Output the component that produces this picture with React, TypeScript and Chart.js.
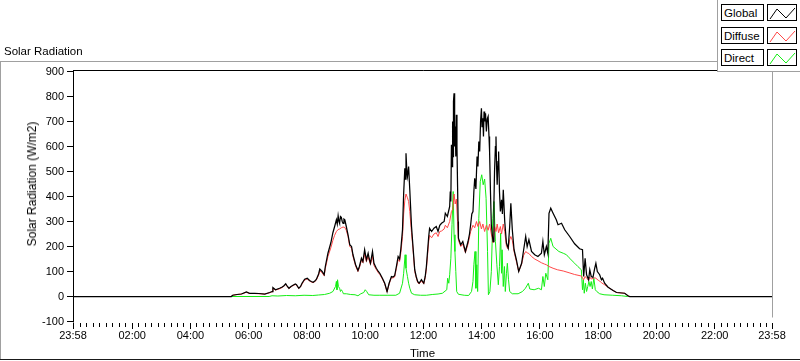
import React, { useEffect, useRef } from 'react';
import { Chart, registerables } from 'chart.js';

Chart.register(...registerables);

const FONT = '"Liberation Sans", Arial, sans-serif';

const seriesNames = ['Global', 'Diffuse', 'Direct'];
const seriesColors = ['#000000', '#ff4848', '#14ee14'];
const seriesWidths = [1.25, 1, 1];

const xMin = -2 / 60;
const xMax = 24 - 2 / 60;
const xTickHours = [xMin, 2, 4, 6, 8, 10, 12, 14, 16, 18, 20, 22, xMax];
const xTickLabels = ['23:58', '02:00', '04:00', '06:00', '08:00', '10:00', '12:00', '14:00', '16:00', '18:00', '20:00', '22:00', '23:58'];
const yMin = -100;
const yMax = 900;
const yStep = 100;

// [hour of day, W/m2]
const globalData: [number, number][] = [
  [xMin, 0], [5.40, 0], [5.45, 5], [5.60, 8], [5.75, 10], [5.92, 18], [6.03, 13], [6.20, 13], [6.35, 12], [6.55, 10],
  [6.72, 16], [6.80, 20], [6.83, 36], [6.92, 27], [7.06, 33], [7.15, 38], [7.21, 43], [7.27, 51], [7.33, 40], [7.38, 33],
  [7.45, 40], [7.52, 45], [7.60, 50], [7.64, 47], [7.72, 33], [7.78, 40], [7.83, 53], [7.92, 69], [8.01, 73], [8.09, 64],
  [8.15, 60], [8.21, 57], [8.27, 62], [8.32, 68], [8.40, 90], [8.44, 110], [8.52, 100], [8.59, 87], [8.63, 120], [8.72, 173],
  [8.82, 215], [8.89, 255], [8.95, 280], [9.01, 307], [9.04, 290], [9.07, 323], [9.10, 300], [9.12, 293], [9.15, 320], [9.18, 317],
  [9.21, 300], [9.24, 293], [9.27, 310], [9.30, 307], [9.35, 280], [9.41, 247], [9.47, 207], [9.53, 200], [9.58, 167], [9.67, 127],
  [9.75, 104], [9.80, 120], [9.87, 153], [9.92, 140], [9.98, 187], [10.04, 147], [10.10, 173], [10.14, 150], [10.18, 133], [10.25, 180],
  [10.30, 133], [10.38, 113], [10.45, 100], [10.50, 93], [10.59, 73], [10.67, 53], [10.75, 20], [10.82, 53], [10.90, 80], [10.95, 78],
  [11.01, 83], [11.07, 120], [11.13, 160], [11.18, 150], [11.22, 187], [11.28, 267], [11.32, 413], [11.36, 513], [11.38, 470], [11.40, 573],
  [11.43, 500], [11.45, 480], [11.49, 520], [11.53, 427], [11.59, 280], [11.64, 200], [11.70, 107], [11.75, 80], [11.80, 60], [11.85, 53],
  [11.93, 67], [12.01, 53], [12.06, 80], [12.10, 120], [12.14, 180], [12.18, 240], [12.21, 273], [12.28, 260], [12.36, 273], [12.44, 280],
  [12.50, 260], [12.56, 285], [12.62, 293], [12.71, 300], [12.75, 333], [12.82, 320], [12.87, 345], [12.90, 360], [12.92, 420], [12.94, 380],
  [12.96, 607], [12.98, 520], [13.00, 700], [13.02, 560], [13.03, 780], [13.05, 813], [13.07, 600], [13.09, 680], [13.11, 560], [13.13, 727],
  [13.15, 600], [13.17, 447], [13.19, 300], [13.20, 233], [13.28, 207], [13.35, 220], [13.44, 180], [13.53, 220], [13.58, 250], [13.62, 287],
  [13.66, 330], [13.70, 340], [13.73, 420], [13.76, 473], [13.80, 430], [13.84, 560], [13.87, 520], [13.90, 620], [13.93, 580], [13.96, 700],
  [13.99, 753], [14.01, 680], [14.04, 713], [14.06, 640], [14.08, 740], [14.10, 700], [14.13, 733], [14.16, 660], [14.19, 710], [14.22, 720],
  [14.25, 640], [14.27, 580], [14.30, 420], [14.33, 287], [14.36, 250], [14.39, 220], [14.42, 380], [14.44, 500], [14.47, 600], [14.49, 640],
  [14.51, 520], [14.53, 447], [14.56, 540], [14.58, 580], [14.61, 420], [14.64, 340], [14.68, 387], [14.71, 330], [14.74, 427], [14.79, 300],
  [14.85, 213], [14.91, 193], [14.96, 280], [15.00, 373], [15.05, 267], [15.11, 187], [15.19, 147], [15.27, 100], [15.37, 133], [15.44, 187],
  [15.51, 240], [15.56, 200], [15.62, 227], [15.71, 180], [15.82, 167], [15.93, 160], [16.05, 173], [16.10, 220], [16.15, 167], [16.22, 200],
  [16.27, 173], [16.31, 333], [16.37, 353], [16.45, 333], [16.56, 307], [16.62, 287], [16.74, 293], [16.85, 267], [17.02, 240], [17.19, 211],
  [17.36, 191], [17.46, 187], [17.50, 80], [17.55, 153], [17.60, 87], [17.67, 67], [17.71, 107], [17.76, 80], [17.82, 77], [17.88, 113],
  [17.92, 133], [17.97, 100], [18.05, 87], [18.11, 67], [18.15, 73], [18.22, 53], [18.34, 37], [18.51, 24], [18.63, 16], [18.91, 13],
  [19.02, 3], [19.08, 0], [xMax, 0],
];

const diffuseData: [number, number][] = [
  [xMin, 0], [5.40, 0], [5.45, 5], [5.60, 8], [5.75, 10], [5.92, 17], [6.03, 12], [6.20, 12], [6.35, 11], [6.55, 10],
  [6.72, 15], [6.80, 19], [6.83, 33], [6.92, 26], [7.06, 31], [7.15, 36], [7.21, 41], [7.27, 48], [7.33, 39], [7.38, 32],
  [7.45, 38], [7.52, 44], [7.60, 48], [7.64, 45], [7.72, 32], [7.78, 39], [7.83, 50], [7.92, 66], [8.01, 70], [8.09, 62],
  [8.15, 58], [8.21, 55], [8.27, 60], [8.32, 65], [8.40, 86], [8.44, 103], [8.52, 95], [8.59, 83], [8.63, 112], [8.72, 160],
  [8.82, 195], [8.89, 225], [8.95, 245], [9.01, 260], [9.07, 268], [9.12, 270], [9.18, 275], [9.24, 278], [9.30, 276], [9.35, 265],
  [9.41, 240], [9.47, 200], [9.53, 193], [9.58, 160], [9.67, 122], [9.75, 100], [9.80, 115], [9.87, 145], [9.92, 135], [9.98, 170],
  [10.04, 140], [10.10, 160], [10.14, 143], [10.18, 128], [10.25, 160], [10.30, 125], [10.38, 108], [10.45, 95], [10.50, 88], [10.59, 70],
  [10.67, 50], [10.75, 18], [10.82, 50], [10.90, 76], [10.95, 74], [11.01, 78], [11.07, 112], [11.13, 148], [11.18, 140], [11.22, 172],
  [11.28, 240], [11.32, 330], [11.36, 385], [11.40, 410], [11.45, 395], [11.49, 380], [11.53, 340], [11.59, 255], [11.64, 190], [11.70, 100],
  [11.75, 76], [11.80, 56], [11.85, 50], [11.93, 62], [12.01, 50], [12.06, 75], [12.10, 110], [12.14, 165], [12.18, 220], [12.21, 245],
  [12.28, 235], [12.36, 250], [12.44, 255], [12.50, 240], [12.56, 260], [12.62, 262], [12.71, 270], [12.75, 285], [12.82, 275], [12.90, 300],
  [12.96, 340], [13.01, 350], [13.05, 410], [13.09, 370], [13.13, 390], [13.17, 300], [13.20, 225], [13.28, 200], [13.35, 210], [13.44, 175],
  [13.53, 210], [13.62, 260], [13.70, 285], [13.76, 275], [13.82, 300], [13.87, 280], [13.93, 300], [13.99, 270], [14.04, 290], [14.10, 260],
  [14.16, 285], [14.22, 265], [14.27, 290], [14.33, 250], [14.39, 215], [14.44, 280], [14.49, 260], [14.53, 290], [14.58, 255], [14.64, 280],
  [14.68, 250], [14.74, 290], [14.79, 260], [14.85, 200], [14.91, 190], [14.96, 227], [15.00, 240], [15.05, 225], [15.11, 180], [15.19, 140],
  [15.27, 100], [15.37, 130], [15.44, 165], [15.51, 180], [15.56, 175], [15.62, 172], [15.71, 160], [15.82, 150], [15.93, 143], [16.05, 135],
  [16.15, 130], [16.22, 127], [16.31, 120], [16.45, 113], [16.60, 107], [16.80, 102], [17.00, 95], [17.19, 88], [17.42, 82], [17.50, 67],
  [17.55, 80], [17.60, 73], [17.67, 65], [17.71, 78], [17.76, 70], [17.82, 72], [17.88, 75], [17.92, 73], [18.00, 65], [18.05, 62],
  [18.11, 55], [18.22, 47], [18.34, 37], [18.51, 24], [18.63, 16], [18.91, 13], [19.02, 3], [19.08, 0], [xMax, 0],
];

const directData: [number, number][] = [
  [xMin, 0], [5.40, 0], [6.70, 0], [6.80, 3], [7.00, 2], [7.30, 4], [7.60, 3], [7.90, 5], [8.20, 4], [8.40, 6],
  [8.60, 8], [8.78, 13], [8.89, 20], [8.98, 40], [9.01, 60], [9.03, 27], [9.05, 67], [9.08, 40], [9.12, 33], [9.15, 20],
  [9.18, 27], [9.22, 20], [9.25, 11], [9.35, 11], [9.50, 8], [9.65, 7], [9.75, 3], [9.85, 11], [9.95, 16], [10.00, 27],
  [10.05, 20], [10.12, 7], [10.30, 5], [10.50, 5], [10.75, 5], [11.05, 5], [11.18, 13], [11.28, 53], [11.32, 93], [11.37, 167],
  [11.40, 113], [11.45, 80], [11.49, 53], [11.53, 33], [11.59, 13], [11.70, 7], [11.90, 5], [12.10, 5], [12.30, 8], [12.50, 10],
  [12.65, 13], [12.80, 27], [12.83, 73], [12.87, 53], [12.90, 87], [12.94, 153], [12.98, 287], [13.02, 420], [13.05, 247], [13.08, 180],
  [13.11, 100], [13.14, 20], [13.20, 9], [13.40, 5], [13.55, 4], [13.65, 20], [13.70, 60], [13.73, 127], [13.77, 180], [13.80, 33],
  [13.83, 127], [13.86, 20], [13.90, 313], [13.95, 460], [14.00, 487], [14.05, 447], [14.10, 470], [14.15, 393], [14.20, 180], [14.23, 7],
  [14.28, 20], [14.33, 100], [14.38, 313], [14.42, 380], [14.47, 220], [14.52, 127], [14.57, 47], [14.61, 120], [14.65, 253], [14.68, 93],
  [14.70, 187], [14.74, 40], [14.78, 120], [14.81, 20], [14.85, 93], [14.88, 133], [14.92, 67], [14.96, 20], [15.05, 11], [15.25, 11],
  [15.40, 20], [15.50, 33], [15.60, 53], [15.65, 30], [15.80, 27], [15.95, 33], [16.05, 27], [16.10, 80], [16.15, 40], [16.20, 93],
  [16.27, 67], [16.31, 213], [16.37, 233], [16.45, 200], [16.55, 190], [16.65, 180], [16.80, 173], [16.91, 167], [17.00, 155], [17.19, 133],
  [17.30, 120], [17.42, 107], [17.46, 27], [17.49, 67], [17.52, 13], [17.56, 53], [17.60, 20], [17.64, 40], [17.68, 60], [17.72, 40],
  [17.76, 60], [17.80, 30], [17.85, 73], [17.90, 27], [17.95, 20], [18.05, 11], [18.20, 7], [18.50, 5], [18.80, 3], [19.00, 0],
  [xMax, 0],
];

const seriesData = [globalData, diffuseData, directData];

const decorPlugin = {
  id: 'decor',
  afterDraw(chart: any) {
    const { ctx, chartArea: a, scales } = chart;
    const xs = scales.x;
    const ys = scales.y;
    ctx.save();
    ctx.lineWidth = 1;
    const seg = (x1: number, y1: number, x2: number, y2: number, c: string) => {
      ctx.strokeStyle = c;
      ctx.beginPath();
      ctx.moveTo(x1, y1);
      ctx.lineTo(x2, y2);
      ctx.stroke();
    };
    const L = Math.floor(a.left) + 0.5;
    const R = Math.floor(a.right) + 0.5;
    const T = Math.floor(a.top) - 0.5;
    const B = Math.floor(a.bottom) + 0.5;
    // outer panel frame
    seg(0, 61.5, chart.width, 61.5, '#a0a0a0');
    seg(0.5, 61, 0.5, 360, '#a0a0a0');
    seg(0, 359.5, chart.width, 359.5, '#1a1a1a');
    // plot frame
    seg(L, T, R + 0.5, T, '#000');
    seg(R, T, R, B - 4, '#a0a0a0');
    seg(L, T - 0.5, L, B + 1, '#000');
    // y tick marks
    ys.ticks.forEach((t: any) => {
      const p = Math.floor(ys.getPixelForValue(t.value)) + 0.5;
      seg(L - 6.5, p, L, p, '#000');
    });
    // x tick marks
    const drawX = (h: number, major: boolean) => {
      const p = Math.floor(xs.getPixelForValue(h)) + 0.5;
      seg(p, B + 1.5, p, B + (major ? 7.5 : 5.5), '#000');
    };
    const minorStep = 2 / 9;
    for (let k = 0; k * minorStep < xs.max; k++) {
      drawX(k * minorStep, k % 9 === 0);
    }
    drawX(xs.min, true);
    drawX(xs.max, true);
    ctx.restore();
  },
};

export default function App() {
  const ref = useRef<HTMLCanvasElement>(null);

  useEffect(() => {
    if (!ref.current) return;
    const chart = new Chart(ref.current, {
      type: 'line',
      data: {
        datasets: seriesData.map((d, i) => ({
          label: seriesNames[i],
          data: d.map(([x, y]) => ({ x, y })),
          borderColor: seriesColors[i],
          backgroundColor: seriesColors[i],
          borderWidth: seriesWidths[i],
          pointRadius: 0,
          tension: 0,
          fill: false,
        })),
      },
      options: {
        responsive: false,
        animation: false,
        devicePixelRatio: 1,
        layout: { padding: { top: 71.5, right: 28, bottom: 0, left: 0 }, autoPadding: false } as any,
        plugins: {
          legend: { display: false },
          tooltip: { enabled: false },
        },
        scales: {
          x: {
            type: 'linear',
            min: xMin,
            max: xMax,
            grid: { display: false, drawTicks: false },
            border: { display: false },
            afterBuildTicks: (s: any) => {
              s.ticks = xTickHours.map((v) => ({ value: v }));
            },
            afterFit: (s: any) => {
              s.height = 39.5;
              s.paddingLeft = 0;
              s.paddingRight = 0;
            },
            ticks: {
              autoSkip: false,
              maxRotation: 0,
              minRotation: 0,
              padding: 8,
              color: '#000',
              font: { family: FONT, size: 11 },
              callback: (_v: any, i: number) => xTickLabels[i],
            },
            title: {
              display: true,
              text: 'Time',
              color: '#000',
              font: { family: FONT, size: 11.5 },
              padding: { top: 0, bottom: 0 },
            },
          },
          y: {
            type: 'linear',
            min: yMin,
            max: yMax,
            grid: { display: false, drawTicks: false },
            border: { display: false },
            afterFit: (s: any) => {
              s.width = 73;
              s.paddingTop = 0;
              s.paddingBottom = 0;
            },
            ticks: {
              stepSize: yStep,
              padding: 9,
              color: '#000',
              font: { family: FONT, size: 11 },
            },
            title: { display: false },
          },
        },
      } as any,
      plugins: [decorPlugin],
    });
    return () => chart.destroy();
  }, []);

  const rowTops = [4, 27, 49];
  const zig = '2,14 9,4 18,13 27,3';

  return (
    <div style={{ position: 'absolute', left: 0, top: 0, width: 800, height: 361, background: '#fff', overflow: 'hidden', fontFamily: FONT }}>
      <canvas ref={ref} width={800} height={361} style={{ position: 'absolute', left: 0, top: 0, width: 800, height: 361 }} />
      <div style={{ position: 'absolute', left: 4, top: 45, fontSize: 11.5, lineHeight: '13px', color: '#000', whiteSpace: 'nowrap' }}>
        Solar Radiation
      </div>
      <div style={{ position: 'absolute', left: 32, top: 184, width: 0, height: 0 }}>
        <div style={{ position: 'absolute', left: 0, top: 0, transform: 'translate(-50%, -50%) rotate(-90deg)', fontSize: 12, lineHeight: '14px', color: '#000', whiteSpace: 'nowrap' }}>
          Solar Radiation (W/m2)
        </div>
      </div>
      <div style={{ position: 'absolute', left: 717, top: 0, width: 83, height: 72, boxSizing: 'border-box', background: '#fff', borderLeft: '1px solid #a0a0a0', borderBottom: '1px solid #a0a0a0' }} />
      {seriesNames.map((name, i) => (
        <React.Fragment key={name}>
          <div style={{ position: 'absolute', left: 721, top: rowTops[i], width: 43, height: 17, boxSizing: 'border-box', border: '1px solid #000', fontSize: 11.5, lineHeight: '15px', paddingLeft: 2, paddingTop: 1, color: '#000', whiteSpace: 'nowrap', background: '#fff' }}>
            {name}
          </div>
          <div style={{ position: 'absolute', left: 767, top: rowTops[i], width: 30, height: 17, boxSizing: 'border-box', border: '1px solid #000', background: '#fff' }}>
            <svg width={28} height={15} style={{ position: 'absolute', left: 0, top: 0 }}>
              <polyline points={zig} fill="none" stroke={seriesColors[i]} strokeWidth={1} />
            </svg>
          </div>
        </React.Fragment>
      ))}
    </div>
  );
}
